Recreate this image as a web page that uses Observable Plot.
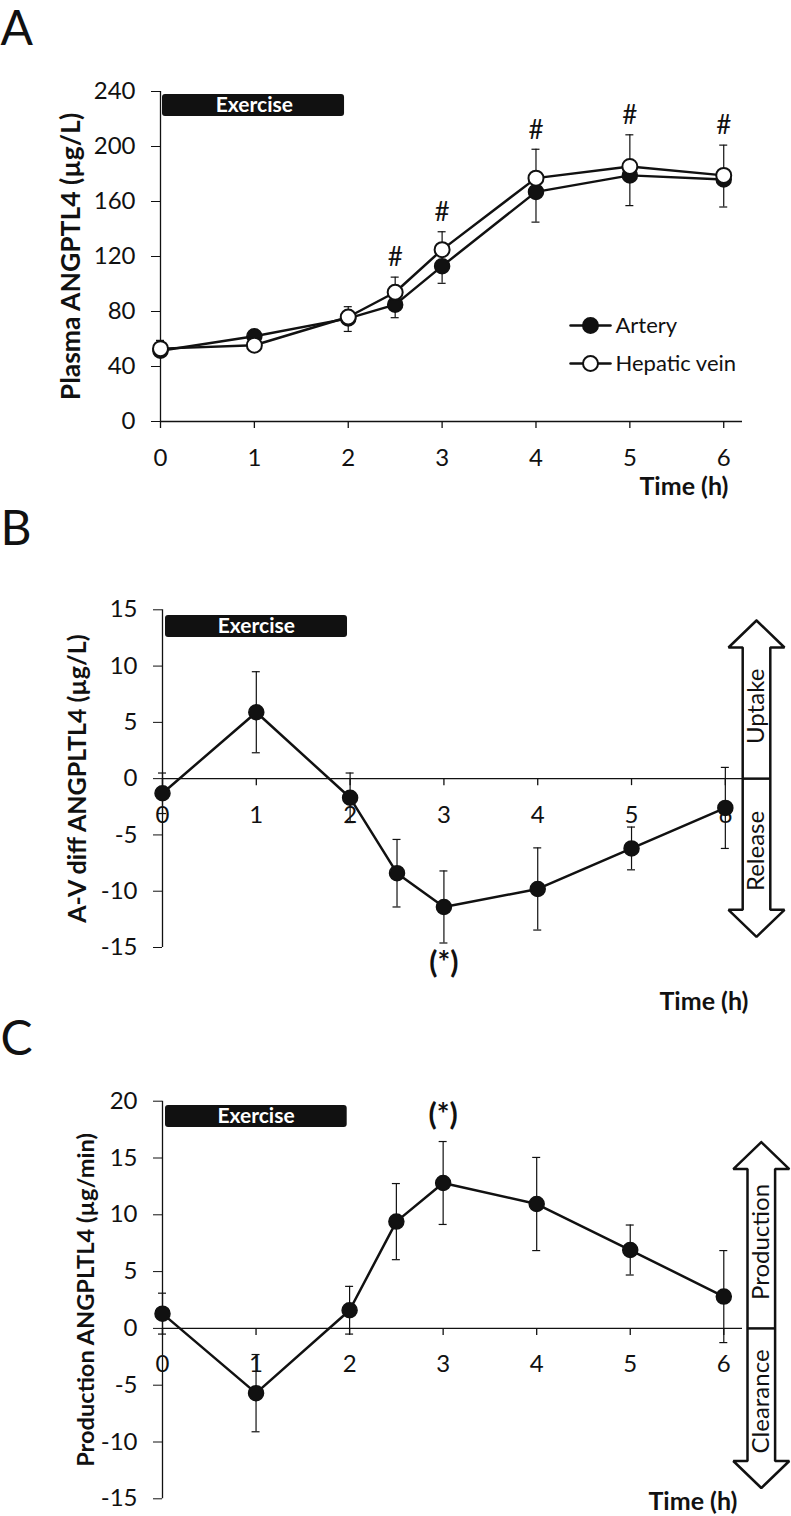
<!DOCTYPE html>
<html><head><meta charset="utf-8">
<script src="https://cdn.jsdelivr.net/npm/d3@7"></script>
<script src="https://cdn.jsdelivr.net/npm/@observablehq/plot@0.6"></script>
<style>
body{margin:0;background:#fff;}
#chart svg{display:block;}
</style></head>
<body><div id="chart"></div>
<script>
// ---------- data ----------
const times = [0, 1, 2, 2.5, 3, 4, 5, 6];
const xTicks = [0, 1, 2, 3, 4, 5, 6];
const exercise = [{start: 0, end: 2, label: "Exercise"}];

// Panel A: plasma ANGPTL4 (µg/L)
const seriesNamesA = ["Artery", "Hepatic vein"];
const arteryA   = [51.5, 62, 75, 85, 113, 167, 179, 176];
const arterySEA = [3, 3, 9.5, 9.5, 12.5, 22, 22, 20];
const veinA     = [53, 55.5, 76, 94, 125, 177, 185.5, 179];
const veinSEA   = [6, 3, 7.5, 11, 13, 21, 23, 22];
const hashA     = [0, 0, 0, 1, 1, 1, 1, 1];
const yTicksA   = [0, 40, 80, 120, 160, 200, 240];

// Panel B: A-V difference (µg/L)
const avDiffB = [-1.3, 5.9, -1.7, -8.4, -11.4, -9.8, -6.2, -2.6];
const seB     = [1.8, 3.6, 2.2, 3.0, 3.2, 3.65, 1.9, 3.6];
const starB   = [0, 0, 0, 0, 1, 0, 0, 0];
const yTicksB = [-15, -10, -5, 0, 5, 10, 15];
const arrowLabelsB = ["Uptake", "Release"];

// Panel C: production (µg/min)
const productionC = [1.3, -5.7, 1.6, 9.4, 12.8, 10.95, 6.9, 2.8];
const seC     = [1.8, 3.4, 2.1, 3.35, 3.65, 4.1, 2.2, 4.05];
const starC   = [0, 0, 0, 0, 1, 0, 0, 0];
const yTicksC = [-15, -10, -5, 0, 5, 10, 15, 20];
const arrowLabelsC = ["Production", "Clearance"];

// ---------- layout ----------
const W = 791, XMAX = 6.2, INK = "#111", FONT = "Lato, 'Open Sans', sans-serif";

function geom(L) {
  const pph = (W - L.ml - L.mr) / XMAX;
  const fh = L.h - L.mt - L.mb;
  const ppu = fh / (L.yd[1] - L.yd[0]);
  return {pph, ppu, fh,
    invX: px => (px - L.ml) / pph,
    invY: py => L.yd[1] - (py - L.mt) / ppu};
}

function frameMarks(L, o) {
  const g = geom(L);
  return [
    Plot.ruleX([0], {stroke: INK, strokeWidth: 1.3}),
    Plot.ruleY([0], {stroke: INK, strokeWidth: 1.3}),
    Plot.ruleX(xTicks, {x: d => d, y1: 0, y2: -7 / g.ppu, stroke: INK, strokeWidth: 1.3}),
    Plot.text(xTicks, {x: d => d, y: 0, dy: 27, lineAnchor: "top", text: d => String(d), fontSize: 24, fill: INK}),
    Plot.barX(exercise, {x1: "start", x2: "end", fill: INK, rx: 3,
      insetLeft: o.barL, insetRight: o.barR, insetTop: o.barTop, insetBottom: g.fh - o.barTop - 22}),
    Plot.text(exercise, {x: d => (d.start + d.end) / 2, frameAnchor: "top", dy: o.barTop + 11, lineAnchor: "middle",
      text: "label", fill: "white", fontWeight: "bold", fontSize: 21}),
    Plot.text([o.yLabel], {frameAnchor: "left", dx: o.yLabelDx, rotate: -90, textAnchor: "middle", lineAnchor: "middle",
      text: d => d, fontWeight: "bold", fontSize: o.yLabelSize, fill: INK}),
    Plot.text(["Time (h)"], {frameAnchor: "bottom-right", dx: o.timeDx, dy: o.timeDy, lineAnchor: "top",
      textAnchor: "end", text: d => d, fontWeight: "bold", fontSize: 25, fill: INK}),
    Plot.text([o.letter], {frameAnchor: "top-left", dx: -L.ml, dy: 10 - L.mt, lineAnchor: "top",
      textAnchor: "start", text: d => d, fontSize: 48, fill: INK})
  ];
}

function arrowMarks(L, a) {
  const g = geom(L);
  const cx = g.invX(a.cxPx), hw = 28 / g.pph, sw = 13.8 / g.pph, hl = 27 / g.ppu;
  const pts = [
    [cx, a.top], [cx + hw, a.top - hl], [cx + sw, a.top - hl], [cx + sw, a.bottom + hl],
    [cx + hw, a.bottom + hl], [cx, a.bottom], [cx - hw, a.bottom + hl], [cx - sw, a.bottom + hl],
    [cx - sw, a.top - hl], [cx - hw, a.top - hl], [cx, a.top]
  ].map(([x, y]) => ({x, y}));
  const labels = [
    {text: a.labels[0], y: (a.top - hl / 2) / 2},
    {text: a.labels[1], y: (a.bottom + hl / 2) / 2}
  ];
  return [
    Plot.line(pts, {x: "x", y: "y", stroke: INK, strokeWidth: 2.5, fill: "white", strokeLinejoin: "miter"}),
    Plot.ruleY([0], {x1: cx - sw, x2: cx + sw, stroke: INK, strokeWidth: 2.5}),
    Plot.text(labels, {x: cx, y: "y", text: "text", rotate: -90, textAnchor: "middle", lineAnchor: "middle", fontSize: 24, fill: INK})
  ];
}

function seriesMarks(L, data, key, seKey) {
  const g = geom(L), cap = 4 / g.pph;
  return [
    Plot.line(data, {x: "t", y: key, stroke: INK, strokeWidth: 2.5}),
    Plot.ruleX(data, {x: "t", y1: d => d[key] - d[seKey], y2: d => d[key] + d[seKey], stroke: INK, strokeWidth: 1.2}),
    Plot.ruleY(data, {y: d => d[key] - d[seKey], x1: d => d.t - cap, x2: d => d.t + cap, stroke: INK, strokeWidth: 1.2}),
    Plot.ruleY(data, {y: d => d[key] + d[seKey], x1: d => d.t - cap, x2: d => d.t + cap, stroke: INK, strokeWidth: 1.2}),
    Plot.dot(data, {x: "t", y: key, r: 7.5, fill: INK, stroke: INK})
  ];
}

function plotOpts(L, yTicks, marks) {
  return {
    width: W, height: L.h,
    marginLeft: L.ml, marginRight: L.mr, marginTop: L.mt, marginBottom: L.mb,
    x: {domain: [0, XMAX], axis: null},
    y: {domain: L.yd, ticks: yTicks, tickSize: 9, tickPadding: 16, tickFormat: d => String(d), label: null},
    style: {fontFamily: FONT, fontSize: "24px", color: INK, background: "white", overflow: "visible"},
    marks
  };
}

const chart = document.getElementById("chart");

// ---------- Panel A ----------
{
  const L = {h: 500, mt: 91, mb: 79, ml: 160, mr: 49, yd: [0, 240]};
  const g = geom(L), cap = 4 / g.pph;
  const data = times.map((t, i) => ({t, artery: arteryA[i], aSE: arterySEA[i], vein: veinA[i], vSE: veinSEA[i], hash: hashA[i]}));
  const legend = seriesNamesA.map((name, i) => ({name, i, y: g.invY(325 + 38 * i)}));
  const legLine = legend.flatMap(d => [{name: d.name, x: g.invX(570), y: d.y}, {name: d.name, x: g.invX(610), y: d.y}]);
  const marks = [
    ...frameMarks(L, {barL: 2, barR: 3.7, barTop: 3, yLabel: "Plasma ANGPTL4 (µg/L)", yLabelDx: -89, yLabelSize: 26.5,
      timeDx: -14, timeDy: 56, letter: "A"}),
    Plot.line(data, {x: "t", y: "artery", stroke: INK, strokeWidth: 2.5}),
    Plot.line(data, {x: "t", y: "vein", stroke: INK, strokeWidth: 2.5}),
    Plot.ruleX(data, {x: "t", y1: d => d.artery - d.aSE, y2: "artery", stroke: INK, strokeWidth: 1.2}),
    Plot.ruleY(data, {y: d => d.artery - d.aSE, x1: d => d.t - cap, x2: d => d.t + cap, stroke: INK, strokeWidth: 1.2}),
    Plot.ruleX(data, {x: "t", y1: "vein", y2: d => d.vein + d.vSE, stroke: INK, strokeWidth: 1.2}),
    Plot.ruleY(data, {y: d => d.vein + d.vSE, x1: d => d.t - cap, x2: d => d.t + cap, stroke: INK, strokeWidth: 1.2}),
    Plot.dot(data, {x: "t", y: "artery", r: 7.5, fill: INK, stroke: INK}),
    Plot.dot(data, {x: "t", y: "vein", r: 7.5, fill: "white", stroke: INK, strokeWidth: 2}),
    Plot.text(data.filter(d => d.hash), {x: "t", y: d => d.vein + d.vSE, dy: -19, text: () => "#", fontSize: 26, fill: INK}),
    Plot.line(legLine, {x: "x", y: "y", z: "name", stroke: INK, strokeWidth: 2.5}),
    Plot.dot(legend, {x: g.invX(590), y: "y", r: 7.5, fill: d => d.i === 0 ? INK : "white", stroke: INK, strokeWidth: 2}),
    Plot.text(legend, {x: g.invX(615), y: "y", text: "name", textAnchor: "start", fontSize: 22, fill: INK})
  ];
  chart.append(Plot.plot(plotOpts(L, yTicksA, marks)));
}

// ---------- Panel B ----------
{
  const L = {h: 510, mt: 109.3, mb: 63, ml: 162, mr: 47.4, yd: [-15, 15]};
  const data = times.map((t, i) => ({t, v: avDiffB[i], se: seB[i], star: starB[i]}));
  const marks = [
    ...frameMarks(L, {barL: 3, barR: 2.6, barTop: 5.7, yLabel: "A-V diff ANGPLTL4 (µg/L)", yLabelDx: -84.5, yLabelSize: 25,
      timeDx: 4.4, timeDy: 45, letter: "B"}),
    ...arrowMarks(L, {cxPx: 756, top: 14.05, bottom: -14.05, labels: arrowLabelsB}),
    ...seriesMarks(L, data, "v", "se"),
    Plot.text(data.filter(d => d.star), {x: "t", y: d => d.v - d.se, dy: 20, text: () => "(*)", fontSize: 30, fontWeight: "bold", fill: INK})
  ];
  chart.append(Plot.plot(plotOpts(L, yTicksB, marks)));
}

// ---------- Panel C ----------
{
  const L = {h: 506, mt: 90.7, mb: 17.7, ml: 162, mr: 49, yd: [-15, 20]};
  const data = times.map((t, i) => ({t, v: productionC[i], se: seC[i], star: starC[i]}));
  const marks = [
    ...frameMarks(L, {barL: 3, barR: 2.4, barTop: 4.3, yLabel: "Production ANGPLTL4 (µg/min)", yLabelDx: -75.7, yLabelSize: 23.6,
      timeDx: -5, timeDy: -6.6, letter: "C"}),
    ...arrowMarks(L, {cxPx: 760.8, top: 16.4, bottom: -14.05, labels: arrowLabelsC}),
    ...seriesMarks(L, data, "v", "se"),
    Plot.text(data.filter(d => d.star), {x: "t", y: d => d.v + d.se, dy: -26, text: () => "(*)", fontSize: 30, fontWeight: "bold", fill: INK})
  ];
  chart.append(Plot.plot(plotOpts(L, yTicksC, marks)));
}
</script>
</body></html>
